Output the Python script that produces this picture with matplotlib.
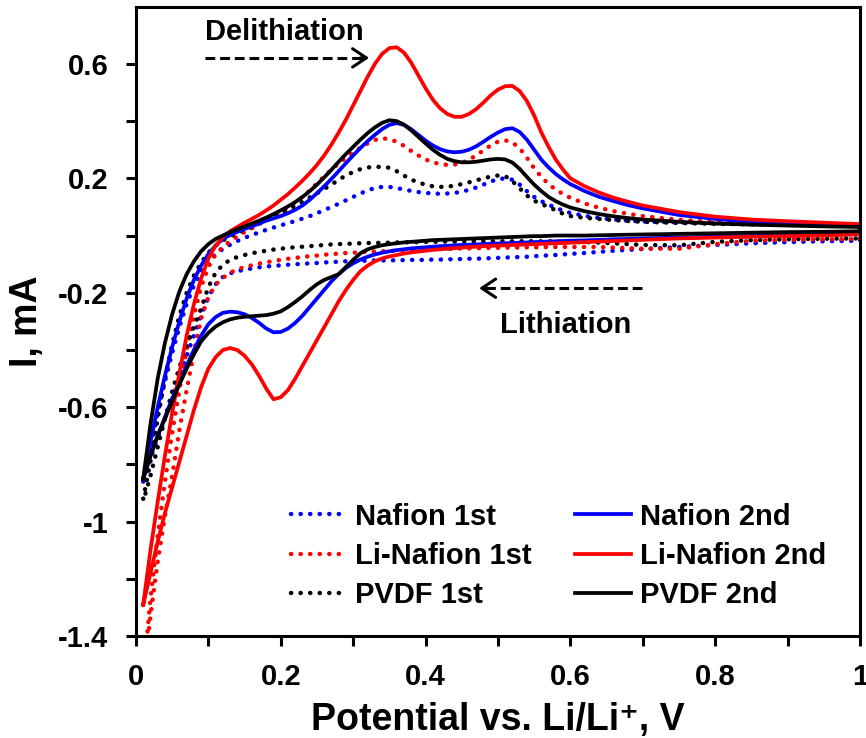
import matplotlib
matplotlib.use("Agg")
import matplotlib.pyplot as plt

plt.rcParams['font.family'] = ['Liberation Sans', 'DejaVu Sans']
plt.rcParams['font.weight'] = 'bold'

# sweep potential, V vs Li/Li+ (shared by both sweep directions)
potential = [0.01, 0.02, 0.03, 0.04, 0.05, 0.06, 0.07, 0.08, 0.09, 0.10,
             0.11, 0.12, 0.13, 0.14, 0.15, 0.16, 0.17, 0.18, 0.19, 0.20,
             0.21, 0.22, 0.23, 0.24, 0.25, 0.26, 0.27, 0.28, 0.29, 0.30,
             0.31, 0.32, 0.33, 0.34, 0.35, 0.36, 0.37, 0.38, 0.39, 0.40,
             0.41, 0.42, 0.43, 0.44, 0.45, 0.46, 0.47, 0.48, 0.49, 0.50,
             0.51, 0.52, 0.53, 0.54, 0.55, 0.56, 0.57, 0.58, 0.59, 0.60,
             0.62, 0.64, 0.66, 0.68, 0.70, 0.75, 0.80, 0.85, 0.90, 0.95, 1.00]

# current (mA): *_ox = anodic sweep (up), *_red = cathodic sweep (down)
nafion_1st_ox = [-0.86, -0.74, -0.62, -0.51, -0.41, -0.32, -0.24, -0.175, -0.125, -0.09,
                 -0.065, -0.047, -0.032, -0.019, -0.008, 0.002, 0.011, 0.02, 0.028, 0.036,
                 0.043, 0.051, 0.059, 0.068, 0.078, 0.089, 0.10, 0.111, 0.123, 0.135,
                 0.147, 0.158, 0.166, 0.17, 0.17, 0.166, 0.161, 0.156, 0.152, 0.149,
                 0.147, 0.146, 0.147, 0.149, 0.153, 0.16, 0.168, 0.178, 0.189, 0.197,
                 0.20, 0.195, 0.178, 0.155, 0.135, 0.12, 0.108, 0.097, 0.087, 0.079,
                 0.069, 0.061, 0.056, 0.052, 0.049, 0.046, 0.043, 0.041, 0.039, 0.037, 0.035]
nafion_1st_red = [-0.86, -0.78, -0.71, -0.64, -0.57, -0.50, -0.42, -0.35, -0.28, -0.215,
                  -0.17, -0.145, -0.132, -0.125, -0.119, -0.115, -0.111, -0.108, -0.106, -0.104,
                  -0.102, -0.10, -0.099, -0.097, -0.096, -0.094, -0.093, -0.091, -0.09, -0.089,
                  -0.088, -0.088, -0.087, -0.087, -0.087, -0.086, -0.086, -0.085, -0.085, -0.085,
                  -0.084, -0.084, -0.083, -0.083, -0.082, -0.081, -0.081, -0.08, -0.079, -0.078,
                  -0.077, -0.076, -0.075, -0.074, -0.072, -0.071, -0.069, -0.068, -0.066, -0.064,
                  -0.061, -0.057, -0.053, -0.05, -0.047, -0.04, -0.033, -0.027, -0.023, -0.02, -0.018]

li_nafion_1st_ox = [-1.55, -1.27, -1.05, -0.86, -0.69, -0.54, -0.40, -0.28, -0.18, -0.11,
                    -0.065, -0.04, -0.02, -0.003, 0.012, 0.025, 0.04, 0.055, 0.068, 0.082,
                    0.097, 0.115, 0.135, 0.158, 0.182, 0.207, 0.23, 0.252, 0.272, 0.29,
                    0.307, 0.322, 0.334, 0.34, 0.337, 0.328, 0.314, 0.296, 0.28, 0.266,
                    0.256, 0.25, 0.247, 0.248, 0.254, 0.265, 0.28, 0.298, 0.315, 0.328,
                    0.333, 0.325, 0.305, 0.272, 0.235, 0.205, 0.18, 0.16, 0.145, 0.132,
                    0.112, 0.097, 0.085, 0.076, 0.068, 0.055, 0.047, 0.042, 0.038, 0.035, 0.032]
li_nafion_1st_red = [-1.55, -1.33, -1.14, -0.98, -0.84, -0.68, -0.54, -0.41, -0.29, -0.215,
                     -0.172, -0.148, -0.13, -0.118, -0.11, -0.104, -0.098, -0.093, -0.089, -0.085,
                     -0.081, -0.078, -0.075, -0.072, -0.07, -0.067, -0.065, -0.063, -0.061, -0.06,
                     -0.058, -0.057, -0.056, -0.055, -0.054, -0.053, -0.052, -0.051, -0.05, -0.049,
                     -0.048, -0.047, -0.047, -0.046, -0.045, -0.045, -0.044, -0.044, -0.043, -0.043,
                     -0.042, -0.042, -0.042, -0.041, -0.041, -0.041, -0.04, -0.04, -0.04, -0.04,
                     -0.04, -0.04, -0.042, -0.044, -0.046, -0.046, -0.03, -0.018, -0.015, -0.013, -0.012]

pvdf_1st_ox = [-0.92, -0.79, -0.64, -0.50, -0.38, -0.28, -0.20, -0.14, -0.095, -0.06,
               -0.035, -0.017, -0.003, 0.009, 0.02, 0.031, 0.042, 0.053, 0.065, 0.077,
               0.09, 0.104, 0.118, 0.133, 0.148, 0.163, 0.178, 0.195, 0.21, 0.222,
               0.232, 0.238, 0.24, 0.24, 0.237, 0.225, 0.21, 0.196, 0.185, 0.178,
               0.172, 0.17, 0.171, 0.174, 0.18, 0.186, 0.193, 0.20, 0.206, 0.21,
               0.208, 0.19, 0.165, 0.14, 0.122, 0.11, 0.10, 0.088, 0.076, 0.068,
               0.062, 0.058, 0.054, 0.051, 0.048, 0.044, 0.041, 0.039, 0.037, 0.035, 0.033]
pvdf_1st_red = [-0.93, -0.84, -0.74, -0.64, -0.545, -0.46, -0.385, -0.32, -0.255, -0.18,
                -0.13, -0.102, -0.085, -0.075, -0.068, -0.062, -0.057, -0.053, -0.049, -0.046,
                -0.043, -0.041, -0.039, -0.037, -0.035, -0.033, -0.031, -0.03, -0.029, -0.028,
                -0.027, -0.026, -0.026, -0.025, -0.025, -0.024, -0.024, -0.023, -0.023, -0.022,
                -0.022, -0.021, -0.021, -0.021, -0.02, -0.02, -0.02, -0.02, -0.02, -0.02,
                -0.02, -0.02, -0.02, -0.02, -0.02, -0.02, -0.02, -0.021, -0.021, -0.022,
                -0.023, -0.025, -0.027, -0.03, -0.033, -0.034, -0.022, -0.016, -0.013, -0.011, -0.01]

nafion_2nd_ox = [-0.85, -0.72, -0.60, -0.49, -0.39, -0.30, -0.22, -0.155, -0.105, -0.065,
                 -0.035, -0.012, 0.002, 0.013, 0.023, 0.032, 0.042, 0.052, 0.06, 0.068,
                 0.078, 0.09, 0.105, 0.125, 0.148, 0.172, 0.198, 0.225, 0.253, 0.28,
                 0.306, 0.33, 0.352, 0.372, 0.387, 0.393, 0.387, 0.372, 0.352, 0.332,
                 0.315, 0.302, 0.294, 0.291, 0.293, 0.30, 0.312, 0.328, 0.345, 0.36,
                 0.372, 0.375, 0.362, 0.335, 0.30, 0.265, 0.238, 0.215, 0.196, 0.18,
                 0.155, 0.135, 0.12, 0.106, 0.095, 0.072, 0.058, 0.049, 0.043, 0.038, 0.035]
nafion_2nd_red = [-0.85, -0.77, -0.70, -0.635, -0.57, -0.51, -0.455, -0.40, -0.35, -0.31,
                  -0.285, -0.27, -0.266, -0.268, -0.275, -0.288, -0.305, -0.325, -0.338, -0.337,
                  -0.325, -0.305, -0.28, -0.25, -0.22, -0.19, -0.16, -0.135, -0.113, -0.097,
                  -0.084, -0.074, -0.066, -0.06, -0.055, -0.051, -0.048, -0.045, -0.043, -0.041,
                  -0.039, -0.037, -0.036, -0.034, -0.033, -0.032, -0.031, -0.03, -0.029, -0.028,
                  -0.027, -0.026, -0.025, -0.024, -0.023, -0.022, -0.021, -0.02, -0.019, -0.018,
                  -0.017, -0.015, -0.013, -0.012, -0.01, -0.007, -0.004, -0.002, 0.0, 0.002, 0.005]

li_nafion_2nd_ox = [-1.29, -1.10, -0.93, -0.77, -0.62, -0.48, -0.35, -0.24, -0.15, -0.08,
                    -0.035, -0.005, 0.015, 0.03, 0.045, 0.058, 0.072, 0.088, 0.105, 0.125,
                    0.145, 0.168, 0.192, 0.218, 0.247, 0.28, 0.318, 0.36, 0.405, 0.455,
                    0.505, 0.555, 0.60, 0.635, 0.655, 0.658, 0.64, 0.605, 0.56, 0.515,
                    0.475, 0.445, 0.425, 0.415, 0.415, 0.425, 0.442, 0.465, 0.49, 0.51,
                    0.522, 0.523, 0.505, 0.47, 0.42, 0.36, 0.31, 0.265, 0.23, 0.20,
                    0.172, 0.15, 0.132, 0.118, 0.105, 0.082, 0.066, 0.056, 0.05, 0.045, 0.04]
li_nafion_2nd_red = [-1.29, -1.18, -1.07, -0.97, -0.88, -0.79, -0.70, -0.61, -0.53, -0.465,
                     -0.425, -0.40, -0.393, -0.40, -0.42, -0.45, -0.49, -0.535, -0.572, -0.565,
                     -0.54, -0.50, -0.455, -0.41, -0.365, -0.32, -0.275, -0.23, -0.19, -0.155,
                     -0.125, -0.105, -0.09, -0.08, -0.073, -0.068, -0.063, -0.059, -0.056, -0.053,
                     -0.05, -0.048, -0.046, -0.044, -0.042, -0.04, -0.039, -0.037, -0.036, -0.035,
                     -0.034, -0.033, -0.032, -0.031, -0.03, -0.029, -0.028, -0.027, -0.026, -0.025,
                     -0.023, -0.021, -0.019, -0.017, -0.015, -0.01, -0.007, -0.004, -0.002, 0.0, 0.005]

pvdf_2nd_ox = [-0.85, -0.66, -0.50, -0.375, -0.275, -0.195, -0.135, -0.09, -0.055, -0.03,
               -0.012, 0.0, 0.012, 0.022, 0.032, 0.042, 0.052, 0.063, 0.075, 0.088,
               0.102, 0.117, 0.135, 0.155, 0.178, 0.203, 0.23, 0.258, 0.285, 0.31,
               0.335, 0.358, 0.378, 0.394, 0.403, 0.40, 0.388, 0.368, 0.345, 0.322,
               0.30, 0.282, 0.268, 0.26, 0.256, 0.256, 0.258, 0.262, 0.266, 0.268,
               0.266, 0.255, 0.233, 0.205, 0.178, 0.155, 0.135, 0.12, 0.108, 0.098,
               0.085, 0.075, 0.067, 0.061, 0.056, 0.048, 0.042, 0.038, 0.035, 0.032, 0.03]
pvdf_2nd_red = [-0.85, -0.77, -0.70, -0.64, -0.58, -0.52, -0.465, -0.415, -0.37, -0.34,
                -0.318, -0.303, -0.293, -0.287, -0.284, -0.282, -0.28, -0.278, -0.273, -0.265,
                -0.25, -0.232, -0.212, -0.19, -0.17, -0.155, -0.145, -0.135, -0.11, -0.085,
                -0.062, -0.048, -0.04, -0.034, -0.03, -0.027, -0.024, -0.022, -0.02, -0.018,
                -0.016, -0.015, -0.014, -0.013, -0.012, -0.011, -0.01, -0.009, -0.008, -0.007,
                -0.006, -0.005, -0.004, -0.003, -0.002, -0.002, -0.001, 0.0, 0.0, 0.0,
                0.0, 0.001, 0.002, 0.003, 0.004, 0.006, 0.008, 0.01, 0.012, 0.013, 0.015]

x_ticks = [0, 0.2, 0.4, 0.6, 0.8, 1]
x_labels = ['0', '0.2', '0.4', '0.6', '0.8', '1']
y_ticks = [-1.4, -1.0, -0.6, -0.2, 0.2, 0.6]
y_labels = ['-1.4', '-1', '-0.6', '-0.2', '0.2', '0.6']

blue = '#0000FF'
red = '#FF0000'
black = '#000000'
dotted = (0, (0.05, 2.1))

curves = [
    ('Nafion 1st', nafion_1st_ox, nafion_1st_red, blue, dotted),
    ('Li-Nafion 1st', li_nafion_1st_ox, li_nafion_1st_red, red, dotted),
    ('PVDF 1st', pvdf_1st_ox, pvdf_1st_red, black, dotted),
    ('Nafion 2nd', nafion_2nd_ox, nafion_2nd_red, blue, '-'),
    ('Li-Nafion 2nd', li_nafion_2nd_ox, li_nafion_2nd_red, red, '-'),
    ('PVDF 2nd', pvdf_2nd_ox, pvdf_2nd_red, black, '-'),
]

fig = plt.figure(figsize=(8.66, 7.38), dpi=100)
ax = fig.add_axes([0.157, 0.138, 0.836, 0.853])

for label, ox, red_branch, color, ls in curves:
    # one closed loop: anodic sweep then cathodic sweep back
    v = potential + potential[::-1]
    i = ox + red_branch[::-1]
    if ls == '-':
        ax.plot(v, i, color=color, lw=2.7, ls='-', label=label,
                solid_joinstyle='round')
    else:
        ax.plot(v, i, color=color, lw=3.2, ls=ls, label=label,
                dash_capstyle='round')

ax.set_xlim(0, 1)
ax.set_ylim(-1.4, 0.8)

ax.set_xticks(x_ticks, labels=x_labels)
ax.set_xticks([0.1, 0.3, 0.5, 0.7, 0.9], minor=True)
ax.set_yticks(y_ticks, labels=y_labels)
ax.set_yticks([-1.2, -0.8, -0.4, 0.0, 0.4], minor=True)

ax.tick_params(which='both', direction='out', length=7, width=2.2,
               top=False, right=False, labelsize=21)
ax.tick_params(axis='y', which='both', pad=13)
ax.tick_params(axis='x', which='both', pad=12)
for sp in ax.spines.values():
    sp.set_linewidth(2.2)

ax.set_xlabel('Potential vs. Li/Li\u207a, V', fontsize=27, fontweight='bold')
ax.set_ylabel('I, mA', fontsize=27, fontweight='bold')
ax.xaxis.set_label_coords(0.5, -0.105)
ax.yaxis.set_label_coords(-0.125, 0.5)

# sweep direction annotations
ax.text(0.095, 0.684, 'Delithiation', fontsize=21, fontweight='bold', va='baseline')
ax.plot([0.095, 0.318], [0.621, 0.621], color='black', lw=2.2, ls=(0, (3.2, 1.6)))
ax.annotate('', xy=(0.322, 0.621), xytext=(0.31, 0.621),
            arrowprops=dict(arrowstyle='->,head_length=0.45,head_width=0.3',
                            lw=2.2, color='black', mutation_scale=22,
                            shrinkA=0, shrinkB=0))

ax.text(0.503, -0.342, 'Lithiation', fontsize=21, fontweight='bold', va='baseline')
ax.plot([0.699, 0.478], [-0.184, -0.184], color='black', lw=2.2, ls=(0, (3.2, 1.6)))
ax.annotate('', xy=(0.474, -0.184), xytext=(0.486, -0.184),
            arrowprops=dict(arrowstyle='->,head_length=0.45,head_width=0.3',
                            lw=2.2, color='black', mutation_scale=22,
                            shrinkA=0, shrinkB=0))

ax.legend(ncol=2, frameon=False, fontsize=21, loc='upper left',
          bbox_to_anchor=(0.214, 0.212), borderpad=0, handlelength=1.9,
          handletextpad=0.3, columnspacing=1.5, labelspacing=0.38,
          borderaxespad=0)

fig.savefig('out.png', dpi=100)
